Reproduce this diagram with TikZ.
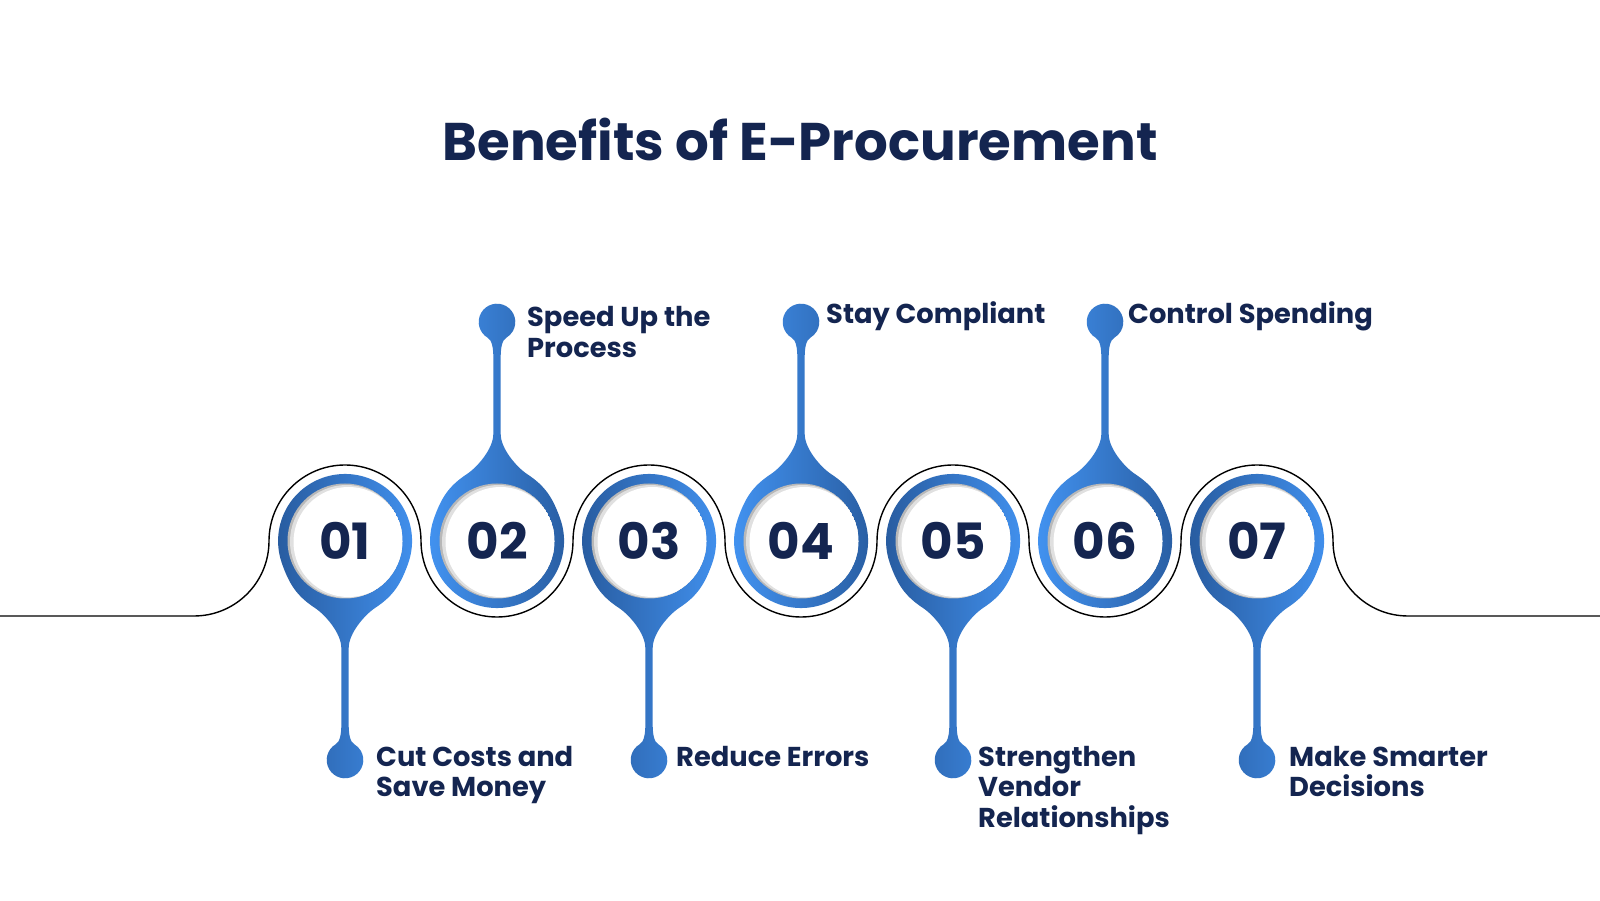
\documentclass[tikz,border=0pt]{standalone}
\usepackage{fontspec}
\setmainfont{Poppins}
\definecolor{navy}{RGB}{20,37,80}
\definecolor{pinDark}{RGB}{40,92,160}
\definecolor{pinLight}{RGB}{66,146,240}
\newcommand\pinoutline{(63,22.9) arc[start angle=20,end angle=-200,radius=67]
 .. controls (-55.5,43.6) and (-48.3,54.9) .. (-30,67)
 .. controls (-20,73.6) and (-3.7,92) .. (-3.7,107) -- (-3.7,184)
 .. controls (-3.7,192) and (-4.8,200.7) .. (-9.15,203.15)
 arc[start angle=240,end angle=-60,radius=18.3]
 .. controls (4.8,200.7) and (3.7,192) .. (3.7,184) -- (3.7,107)
 .. controls (3.7,92) and (20,73.6) .. (30,67)
 .. controls (48.3,54.9) and (55.5,43.6) .. (63,22.9) -- cycle}
\tikzset{
  blackline/.style={draw=black, line width=1.4pt},
  numtxt/.style={inner sep=0, text=navy, font=\fontsize{50}{60}\selectfont\bfseries},
  lbl/.style={anchor=base west, inner sep=0, text=navy, font=\fontsize{27.3}{30.5}\selectfont\bfseries},
  titletxt/.style={anchor=base, inner sep=0, text=navy, font=\fontsize{53}{64}\selectfont\bfseries}
}
\begin{document}
\begin{tikzpicture}[x=1pt,y=1pt]
\useasboundingbox[fill=white] (0,0) rectangle (1600,900);
\node[titletxt] (title) at (800,739) {Benefits of E-Procurement};
% connecting line
\coordinate (Lend) at (0,284);
\coordinate (Rend) at (1600,284);
\draw[blackline] (Lend) -- (194,284)
  arc[start angle=-90,end angle=0,radius=75]
  arc[start angle=180,end angle=0,radius=76]
  arc[start angle=180,end angle=360,radius=76]
  arc[start angle=180,end angle=0,radius=76]
  arc[start angle=180,end angle=360,radius=76]
  arc[start angle=180,end angle=0,radius=76]
  arc[start angle=180,end angle=360,radius=76]
  arc[start angle=180,end angle=0,radius=76]
  arc[start angle=180,end angle=270,radius=75] -- (Rend);
% pins
\foreach \i/\x/\s/\lc/\rc in {1/345/-1/pinDark/pinLight,2/497/1/pinLight/pinDark,3/649/-1/pinDark/pinLight,4/801/1/pinLight/pinDark,5/953/-1/pinDark/pinLight,6/1105/1/pinLight/pinDark,7/1257/-1/pinDark/pinLight}{
  \coordinate (c\i) at (\x,359);
  \begin{scope}[shift={(c\i)}, yscale=\s]
    \shade[left color=\lc, right color=\rc] \pinoutline;
  \end{scope}
  \begin{scope}[shift={(c\i)}]
    \clip (0,0) circle[radius=57.5];
    \fill[black!28] (0,0) circle[radius=57.5];
    \fill[black!12] (1.5,-0.5) circle[radius=56.5];
    \fill[white] (3.5,-1) circle[radius=55];
  \end{scope}
  \node[numtxt] (n\i) at (c\i) {0\i};
}
% labels
\node[lbl] (t1) at (376,134) {\vtop{\hbox{Cut Costs and}\hbox{Save Money}}};
\node[lbl] (t2) at (527,573) {\vtop{\hbox{Speed Up the}\hbox{Process}}};
\node[lbl] (t3) at (676,134) {Reduce Errors};
\node[lbl] (t4) at (826,576) {Stay Compliant};
\node[lbl] (t5) at (978,134) {\vtop{\hbox{Strengthen}\hbox{Vendor}\hbox{Relationships}}};
\node[lbl] (t6) at (1128,576) {Control Spending};
\node[lbl] (t7) at (1289,134) {\vtop{\hbox{Make Smarter}\hbox{Decisions}}};
\end{tikzpicture}
\end{document}
